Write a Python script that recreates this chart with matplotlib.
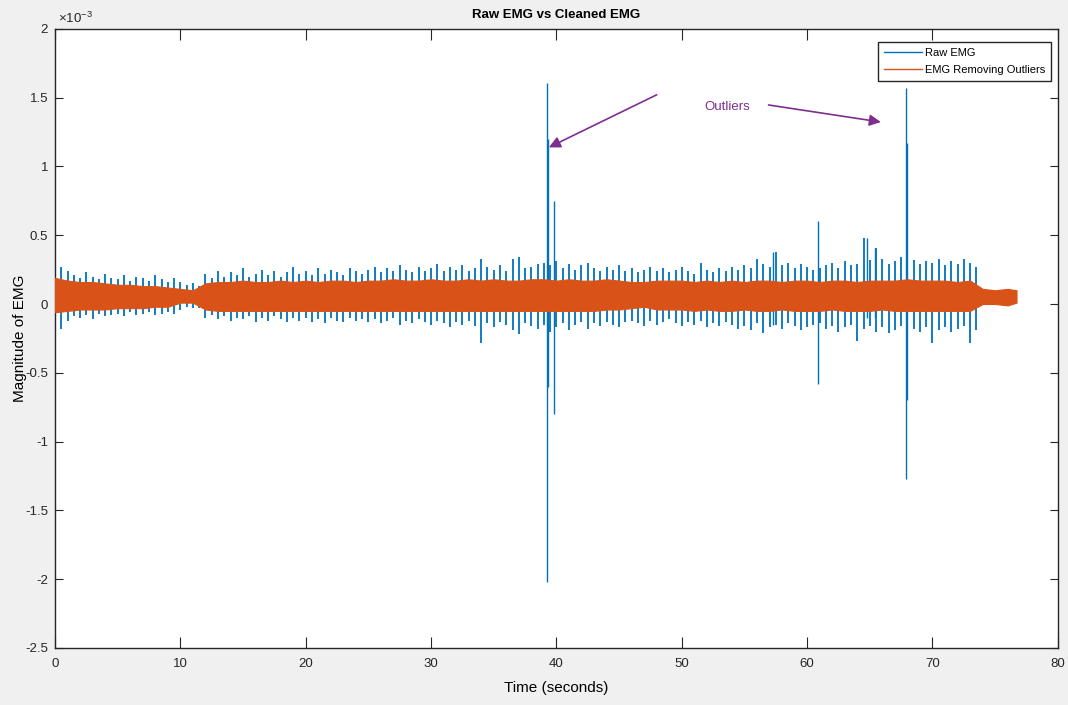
import numpy as np
import matplotlib
matplotlib.use("Agg")
import matplotlib.pyplot as plt
from matplotlib.patches import FancyArrowPatch
from matplotlib.lines import Line2D

plt.rcParams['font.family'] = ['Liberation Sans Narrow', 'Liberation Sans', 'DejaVu Sans']

BLUE = '#0072BD'
ORANGE = '#D95319'
PURPLE = '#7E2F8E'

# values are in units of 1e-3 (axis shows x10^-3)
# raw EMG peaks, sampled every half second from 0 to 73.5 s
raw_time = np.arange(0, 74, 0.5)
raw_hi = [
    0.30, 0.27, 0.24, 0.21, 0.19, 0.23, 0.20, 0.18, 0.22, 0.19,
    0.18, 0.21, 0.17, 0.20, 0.19, 0.17, 0.21, 0.18, 0.16, 0.19,
    0.16, 0.14, 0.15, 0.13, 0.22, 0.19, 0.24, 0.20, 0.23, 0.21,
    0.26, 0.20, 0.22, 0.25, 0.21, 0.24, 0.20, 0.23, 0.27, 0.22,
    0.24, 0.21, 0.26, 0.22, 0.25, 0.23, 0.21, 0.26, 0.24, 0.22,
    0.25, 0.27, 0.23, 0.26, 0.24, 0.28, 0.25, 0.23, 0.27, 0.24,
    0.26, 0.29, 0.24, 0.27, 0.25, 0.28, 0.24, 0.26, 0.33, 0.27,
    0.25, 0.28, 0.24, 0.33, 0.34, 0.26, 0.27, 0.29, 0.30, 0.28,
    0.31, 0.26, 0.29, 0.25, 0.28, 0.30, 0.26, 0.24, 0.27, 0.25,
    0.28, 0.24, 0.26, 0.23, 0.25, 0.27, 0.24, 0.26, 0.23, 0.25,
    0.27, 0.24, 0.22, 0.30, 0.25, 0.23, 0.26, 0.24, 0.27, 0.25,
    0.28, 0.26, 0.33, 0.29, 0.27, 0.38, 0.28, 0.30, 0.26, 0.29,
    0.27, 0.25, 0.26, 0.28, 0.30, 0.26, 0.31, 0.28, 0.29, 0.48,
    0.32, 0.41, 0.33, 0.29, 0.31, 0.34, 0.30, 0.32, 0.29, 0.31,
    0.30, 0.33, 0.28, 0.31, 0.29, 0.33, 0.30, 0.27,
]
raw_lo = [
    -0.21, -0.18, -0.12, -0.09, -0.10, -0.08, -0.11, -0.07, -0.09, -0.08,
    -0.07, -0.09, -0.06, -0.08, -0.07, -0.06, -0.08, -0.07, -0.06, -0.07,
    -0.04, -0.02, -0.03, -0.03, -0.10, -0.08, -0.11, -0.09, -0.12, -0.10,
    -0.11, -0.09, -0.13, -0.10, -0.12, -0.09, -0.11, -0.13, -0.10, -0.12,
    -0.10, -0.13, -0.11, -0.14, -0.10, -0.12, -0.13, -0.10, -0.12, -0.11,
    -0.13, -0.11, -0.14, -0.12, -0.10, -0.15, -0.12, -0.14, -0.11, -0.13,
    -0.15, -0.12, -0.14, -0.17, -0.13, -0.15, -0.12, -0.16, -0.28, -0.14,
    -0.17, -0.13, -0.15, -0.19, -0.22, -0.14, -0.16, -0.18, -0.15, -0.20,
    -0.17, -0.14, -0.19, -0.15, -0.13, -0.18, -0.14, -0.16, -0.13, -0.15,
    -0.17, -0.13, -0.12, -0.14, -0.16, -0.12, -0.15, -0.13, -0.11, -0.14,
    -0.16, -0.13, -0.15, -0.12, -0.17, -0.14, -0.16, -0.13, -0.15, -0.18,
    -0.16, -0.19, -0.14, -0.21, -0.17, -0.15, -0.18, -0.14, -0.16, -0.19,
    -0.17, -0.15, -0.14, -0.18, -0.16, -0.20, -0.17, -0.15, -0.27, -0.18,
    -0.16, -0.20, -0.17, -0.21, -0.19, -0.16, -0.22, -0.18, -0.20, -0.17,
    -0.28, -0.19, -0.17, -0.20, -0.18, -0.16, -0.28, -0.19,
]

# the outliers in the raw signal: time, lowest, highest
outlier_time = [39.25, 39.35, 39.8, 60.85, 67.85, 67.95, 64.8, 65.4, 57.3]
outlier_lo = [-2.02, -0.60, -0.80, -0.58, -1.27, -0.70, -0.10, -0.10, -0.15]
outlier_hi = [1.61, 1.20, 0.75, 0.60, 1.57, 1.17, 0.48, 0.41, 0.38]

# cleaned EMG envelope, once per second
clean_time = np.append(np.arange(77), 76.7)
clean_hi = [
    0.19, 0.17, 0.16, 0.16, 0.15, 0.14, 0.14, 0.13, 0.13, 0.12,
    0.11, 0.10, 0.15, 0.16, 0.16, 0.17, 0.16, 0.16, 0.17, 0.16,
    0.17, 0.16, 0.17, 0.17, 0.16, 0.17, 0.17, 0.18, 0.17, 0.17,
    0.18, 0.17, 0.17, 0.18, 0.17, 0.18, 0.17, 0.17, 0.18, 0.18,
    0.17, 0.18, 0.17, 0.17, 0.18, 0.17, 0.16, 0.16, 0.17, 0.17,
    0.17, 0.16, 0.17, 0.16, 0.17, 0.16, 0.17, 0.17, 0.16, 0.17,
    0.17, 0.16, 0.17, 0.17, 0.16, 0.17, 0.17, 0.17, 0.18, 0.17,
    0.17, 0.17, 0.16, 0.17, 0.11, 0.10, 0.11, 0.10,
]
clean_lo = [
    -0.06, -0.05, -0.04, -0.04, -0.04, -0.03, -0.03, -0.03, -0.02, -0.02,
    0.01, 0.01, -0.04, -0.05, -0.05, -0.05, -0.05, -0.05, -0.05, -0.05,
    -0.05, -0.05, -0.05, -0.05, -0.05, -0.05, -0.05, -0.05, -0.05, -0.05,
    -0.05, -0.05, -0.05, -0.05, -0.05, -0.05, -0.05, -0.05, -0.05, -0.05,
    -0.05, -0.05, -0.05, -0.05, -0.04, -0.04, -0.03, -0.02, -0.04, -0.04,
    -0.04, -0.05, -0.04, -0.05, -0.05, -0.04, -0.05, -0.05, -0.04, -0.05,
    -0.05, -0.05, -0.04, -0.05, -0.05, -0.05, -0.04, -0.05, -0.05, -0.05,
    -0.05, -0.05, -0.05, -0.05, 0.00, 0.00, -0.01, 0.01,
]

xticks = np.arange(0, 81, 10)
yticks = np.arange(-2.5, 2.01, 0.5)
ytick_labels = ['-2.5', '-2', '-1.5', '-1', '-0.5', '0', '0.5', '1', '1.5', '2']

fig = plt.figure(figsize=(10.68, 7.05), dpi=100, facecolor='#F0F0F0')
ax = fig.add_axes([0.0515, 0.081, 0.939, 0.878])

# raw first, cleaned drawn over it
ax.vlines(raw_time, raw_lo, raw_hi, color=BLUE, lw=1.3, zorder=2)
ax.vlines(outlier_time, outlier_lo, outlier_hi, color=BLUE, lw=1.0, zorder=2)
ax.fill_between(clean_time, clean_lo, clean_hi, color=ORANGE, lw=0.8,
                edgecolor=ORANGE, zorder=3)

ax.set_xlim(0, 80)
ax.set_ylim(-2.5, 2.0)
ax.set_xticks(xticks)
ax.set_yticks(yticks)
ax.set_yticklabels(ytick_labels)
ax.tick_params(direction='in', top=True, right=True, labelsize=9.5, colors='#262626')
ax.tick_params(axis='x', length=8, pad=7)
ax.tick_params(axis='y', length=5.5, pad=5)
for s in ax.spines.values():
    s.set_color('#262626')
    s.set_linewidth(1.0)

ax.text(0.003, 1.004, r'$\mathregular{\times 10^{-3}}$', transform=ax.transAxes,
        fontsize=9.5, color='#262626', ha='left', va='bottom')
ax.set_title('Raw EMG vs Cleaned EMG', fontsize=9.5, fontweight='bold', pad=8)
ax.set_xlabel('Time (seconds)', fontsize=11, labelpad=8)
ax.set_ylabel('Magnitude of EMG', fontsize=11)
ax.yaxis.set_label_coords(-0.028, 0.5)

handles = [Line2D([], [], color=BLUE, lw=1), Line2D([], [], color=ORANGE, lw=1)]
ax.legend(handles, ['Raw EMG', 'EMG Removing Outliers'], loc='upper right',
          bbox_to_anchor=(0.9935, 0.979), fontsize=8, fancybox=False,
          edgecolor='#262626', framealpha=1, borderpad=0.55, labelspacing=0.6,
          handlelength=3.4, handletextpad=0.3, borderaxespad=0)

ax.add_patch(FancyArrowPatch((48.2, 1.53), (39.2, 1.13), arrowstyle='-|>',
                             mutation_scale=17, color=PURPLE, lw=1.2, zorder=5))
ax.add_patch(FancyArrowPatch((56.7, 1.45), (66.1, 1.32), arrowstyle='-|>',
                             mutation_scale=17, color=PURPLE, lw=1.2, zorder=5))
ax.text(53.6, 1.43, 'Outliers', color=PURPLE, fontsize=9.5, ha='center', va='center')

fig.savefig('out.png', dpi=100, facecolor=fig.get_facecolor())
